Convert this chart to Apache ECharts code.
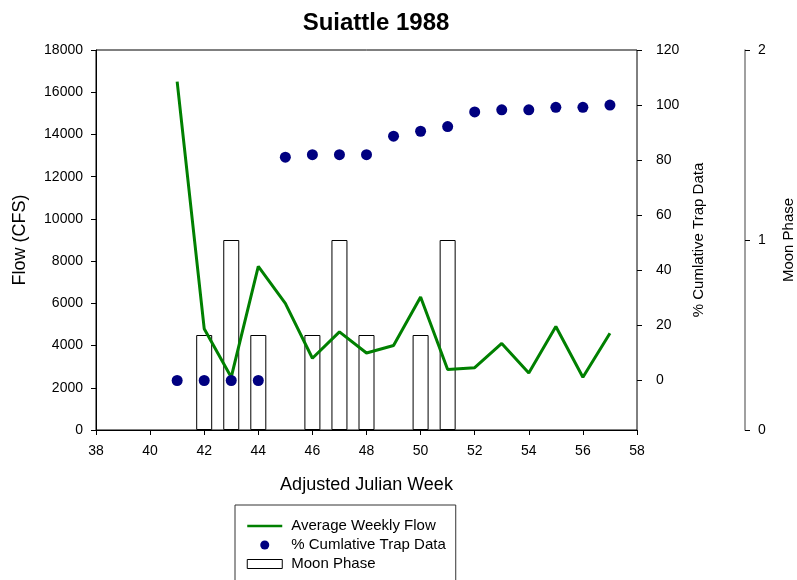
<!DOCTYPE html>
<html>
<head>
<meta charset="utf-8">
<script src="https://cdn.jsdelivr.net/npm/echarts@6/dist/echarts.min.js"></script>
<style>
html,body{margin:0;padding:0;background:#fff;}
#chart{width:797px;height:580px;}
</style>
</head>
<body>
<div id="chart"></div>
<script>
// ---- data ----
const weeks = [41, 42, 43, 44, 45, 46, 47, 48, 49, 50, 51, 52, 53, 54, 55, 56, 57];
const avgWeeklyFlow = [16500, 4800, 2500, 7750, 6000, 3400, 4650, 3650, 4000, 6300, 2870, 2950, 4100, 2700, 4900, 2500, 4580];
const cumTrapPct = [0, 0, 0, 0, 81.1, 82, 82, 82, 88.7, 90.5, 92.2, 97.5, 98.3, 98.3, 99.2, 99.2, 100];
const moonWeeks = [42, 43, 44, 46, 47, 48, 50, 51];
const moonPhase = [0.5, 1, 0.5, 0.5, 1, 0.5, 0.5, 1];
const flowTicks = { min: 0, max: 18000, interval: 2000 };
const pctTicks = { min: 0, max: 120, interval: 20 };
const moonTicks = { min: 0, max: 2, interval: 1 };
const weekTicks = { min: 38, max: 58, interval: 2 };

const FONT = 'Arial, "Liberation Sans", sans-serif';
const chart = echarts.init(document.getElementById('chart'), null, { renderer: 'canvas' });

const labelStyle = { color: '#000', fontFamily: FONT, fontSize: 14, formatter: v => String(v) };

chart.setOption({
  animation: false,
  backgroundColor: '#fff',
  title: {
    text: 'Suiattle 1988',
    left: 371, top: 6, textAlign: 'center',
    textStyle: { fontFamily: FONT, fontSize: 24, fontWeight: 'bold', color: '#000' }
  },
  legend: {
    orient: 'vertical',
    left: 235, top: 505, height: 120,
    padding: [13.5, 10, 30, 11],
    itemWidth: 35, itemHeight: 9, itemGap: 4,
    borderColor: '#333', borderWidth: 1,
    textStyle: { fontFamily: FONT, fontSize: 15, color: '#000', lineHeight: 15, padding: [0, 0, 0, 4] },
    data: [
      { name: 'Average Weekly Flow', itemStyle: { opacity: 0 }, lineStyle: { width: 2.5, color: '#008000' } },
      { name: '% Cumlative Trap Data', icon: 'circle', itemStyle: { color: '#000080', opacity: 1 } },
      { name: 'Moon Phase', icon: 'rect', itemStyle: { color: '#fff', borderColor: '#000', borderWidth: 1 } }
    ]
  },
  grid: [
    { left: 96, right: 160, top: 50, bottom: 150, outerBoundsMode: 'none', containLabel: false,
      show: true, borderColor: '#000', borderWidth: 1, backgroundColor: 'transparent' },
    { left: 96, right: 160, top: 50, bottom: 199.5, outerBoundsMode: 'none', containLabel: false, show: false }
  ],
  xAxis: [
    {
      gridIndex: 0, type: 'value', min: weekTicks.min, max: weekTicks.max, interval: weekTicks.interval,
      name: 'Adjusted Julian Week', nameLocation: 'middle', nameGap: 46,
      nameTextStyle: { fontFamily: FONT, fontSize: 18, color: '#000' },
      axisLine: { lineStyle: { color: '#000', width: 1 } },
      axisTick: { length: 5, lineStyle: { color: '#000' } },
      axisLabel: Object.assign({ margin: 14 }, labelStyle),
      splitLine: { show: false }
    },
    { gridIndex: 1, type: 'value', min: weekTicks.min, max: weekTicks.max, show: false }
  ],
  yAxis: [
    {
      gridIndex: 0, type: 'value', position: 'left',
      min: flowTicks.min, max: flowTicks.max, interval: flowTicks.interval,
      name: 'Flow (CFS)', nameLocation: 'middle', nameGap: 67,
      nameTextStyle: { fontFamily: FONT, fontSize: 18, color: '#000' },
      axisLine: { show: true, lineStyle: { color: '#000' } },
      axisTick: { show: true, length: 5, lineStyle: { color: '#000' } },
      axisLabel: Object.assign({ margin: 13 }, labelStyle),
      splitLine: { show: false }
    },
    {
      gridIndex: 0, type: 'value', position: 'right', offset: 108,
      min: moonTicks.min, max: moonTicks.max, interval: moonTicks.interval,
      name: 'Moon Phase', nameLocation: 'middle', nameGap: 36,
      nameTextStyle: { fontFamily: FONT, fontSize: 15, color: '#000' },
      axisLine: { show: true, lineStyle: { color: '#808080', width: 1.5 } },
      axisTick: { show: true, length: 5, lineStyle: { color: '#000' } },
      axisLabel: Object.assign({ margin: 13 }, labelStyle),
      splitLine: { show: false }
    },
    {
      gridIndex: 0, type: 'value', position: 'right',
      min: pctTicks.min, max: pctTicks.max,
      name: '% Cumlative Trap Data', nameLocation: 'middle', nameGap: 54,
      nameTextStyle: { fontFamily: FONT, fontSize: 15, color: '#000' },
      axisLine: { show: false }, axisTick: { show: false }, axisLabel: { show: false },
      splitLine: { show: false }
    },
    {
      gridIndex: 1, type: 'value', position: 'right',
      min: pctTicks.min, max: pctTicks.max, interval: pctTicks.interval,
      axisLine: { show: false },
      axisTick: { show: true, length: 5, lineStyle: { color: '#000' } },
      axisLabel: Object.assign({ margin: 19 }, labelStyle),
      splitLine: { show: false }
    }
  ],
  series: [
    {
      name: 'Moon Phase', type: 'bar', xAxisIndex: 0, yAxisIndex: 1,
      data: moonWeeks.map((w, i) => [w, moonPhase[i]]),
      barWidth: 16, z: 1,
      itemStyle: { color: '#fff', borderColor: '#000', borderWidth: 1 }
    },
    {
      name: 'Average Weekly Flow', type: 'line', xAxisIndex: 0, yAxisIndex: 0,
      data: weeks.map((w, i) => [w, avgWeeklyFlow[i]]),
      symbol: 'none', z: 2,
      lineStyle: { color: '#008000', width: 3 },
      itemStyle: { color: '#008000' }
    },
    {
      name: '% Cumlative Trap Data', type: 'scatter', xAxisIndex: 1, yAxisIndex: 3,
      data: weeks.map((w, i) => [w, cumTrapPct[i]]),
      symbol: 'circle', symbolSize: 11, z: 3,
      itemStyle: { color: '#000080', opacity: 1 }
    }
  ]
});
</script>
</body>
</html>
